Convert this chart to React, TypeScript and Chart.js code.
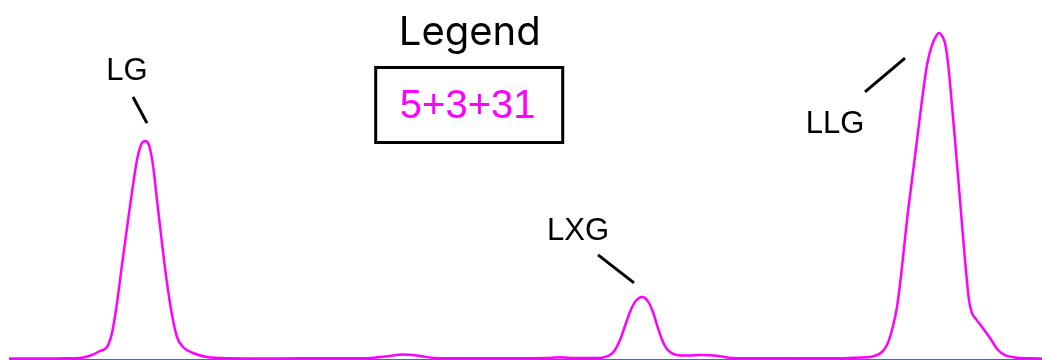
import React, { useEffect, useRef } from "react";
import { Chart, registerables } from "chart.js";

Chart.register(...registerables);

// Retention time (min) and detector signal (% of full scale)
const times: number[] = [
  0, 0.62, 1.12, 1.42, 1.66, 1.82, 1.96, 2.06, 2.16, 2.26, 2.36, 2.46, 2.56, 2.64, 2.72, 2.8, 2.88, 2.96, 3.06,
  3.16, 3.26, 3.36, 3.48, 3.68, 3.96, 4.42, 5.02, 5.82, 6.82, 7.22, 7.52, 7.88, 8.22, 8.52, 9.22, 10.22, 10.72,
  11.02, 11.32, 11.82, 11.88, 12.02, 12.12, 12.22, 12.32, 12.42, 12.52, 12.6, 12.66, 12.72, 12.8, 12.88, 12.96,
  13.04, 13.12, 13.22, 13.36, 13.58, 13.82, 14.12, 14.48, 15.02, 15.82, 16.62, 17.02, 17.22, 17.36, 17.46, 17.56,
  17.66, 17.76, 17.86, 17.96, 18.06, 18.16, 18.26, 18.36, 18.44, 18.52, 18.6, 18.66, 18.72, 18.78, 18.82, 18.92,
  19.02, 19.12, 19.2, 19.26, 19.34, 19.46, 19.62, 19.78, 19.92, 20.12, 20.42, 20.66,
];
const signal: number[] = [
  0.14, 0.14, 0.19, 0.28, 1.11, 2.23, 3.34, 7.24, 15.6, 26.2, 36.5, 46.5, 55.4, 59.6, 60.7, 59.6, 54.0, 44.3, 32.3,
  21.2, 12.3, 6.13, 3.34, 1.67, 0.56, 0.19, 0.14, 0.19, 0.19, 0.28, 0.7, 1.25, 0.84, 0.28, 0.19, 0.19, 0.28,
  0.47, 0.28, 0.28, 0.42, 1.11, 2.51, 5.29, 9.19, 13.1, 15.9, 17.0, 17.3, 17.0, 15.6, 13.1, 9.47,
  6.13, 3.62, 1.95, 1.11, 0.97, 1.11, 0.97, 0.28, 0.19, 0.19, 0.19, 0.42, 0.56, 1.11, 1.95, 3.9,
  8.08, 14.5, 25.6, 38.7, 49.9, 61.0, 72.1, 81.9, 86.6, 89.4, 90.8, 90.0, 88.0, 82.5, 76.9, 61.0,
  44.3, 27.6, 16.4, 12.8, 11.1, 8.91, 5.85, 2.51, 1.11, 0.42, 0.19, 0.14,
];

const seriesLabel = "5+3+31";
const seriesColor = "#ff00ff";
const legendTitle = "Legend";

// Peak annotations (data coordinates)
const peakNames: string[] = ["LG", "LXG", "LLG"];
const peakTextX: number[] = [2.36, 11.38, 16.52];
const peakTextY: number[] = [77.7, 33.1, 63.0];
const leaderStartX: number[] = [2.48, 11.78, 17.12];
const leaderStartY: number[] = [73.0, 29.0, 74.4];
const leaderEndX: number[] = [2.76, 12.5, 17.92];
const leaderEndY: number[] = [65.7, 21.2, 83.8];

const xMin = 0;
const xMax = 20.66;
const yMin = 0;
const yMax = 100;

const annotationPlugin = {
  id: "peakAnnotations",
  afterDatasetsDraw(chart: any) {
    const { ctx, scales } = chart;
    const xs = scales.x;
    const ys = scales.y;
    ctx.save();
    // leader lines
    ctx.strokeStyle = "#000000";
    ctx.lineWidth = 3;
    ctx.lineCap = "butt";
    for (let i = 0; i < peakNames.length; i++) {
      ctx.beginPath();
      ctx.moveTo(xs.getPixelForValue(leaderStartX[i]), ys.getPixelForValue(leaderStartY[i]));
      ctx.lineTo(xs.getPixelForValue(leaderEndX[i]), ys.getPixelForValue(leaderEndY[i]));
      ctx.stroke();
    }
    // labels
    ctx.fillStyle = "#000000";
    ctx.font = "31px 'Liberation Sans', Arial, sans-serif";
    ctx.textAlign = "center";
    ctx.textBaseline = "alphabetic";
    for (let i = 0; i < peakNames.length; i++) {
      ctx.fillText(peakNames[i], xs.getPixelForValue(peakTextX[i]), ys.getPixelForValue(peakTextY[i]));
    }
    // legend
    const ds = chart.data.datasets[0];
    const ca = chart.chartArea;
    const cx = ca.left + (ca.right - ca.left) * 0.446;
    ctx.font = "40px Inter, 'Noto Sans', sans-serif";
    ctx.fillStyle = "#000000";
    ctx.fillText(legendTitle, cx, ca.top + 45);
    ctx.lineWidth = 3;
    ctx.strokeStyle = "#000000";
    ctx.strokeRect(cx - 94, ca.top + 67.5, 187, 75);
    ctx.font = "40px 'Liberation Sans', Arial, sans-serif";
    ctx.fillStyle = ds.borderColor;
    ctx.fillText(ds.label, cx - 2, ca.top + 118);
    ctx.restore();
  },
};

export default function App() {
  const canvasRef = useRef<HTMLCanvasElement | null>(null);

  useEffect(() => {
    if (!canvasRef.current) return;
    const chart = new Chart(canvasRef.current, {
      type: "line",
      data: {
        datasets: [
          {
            label: seriesLabel,
            data: times.map((t, i) => ({ x: t, y: signal[i] })),
            borderColor: seriesColor,
            backgroundColor: seriesColor,
            borderWidth: 2.5,
            pointRadius: 0,
            cubicInterpolationMode: "monotone",
            fill: false,
          },
        ],
      },
      options: {
        animation: false,
        responsive: true,
        maintainAspectRatio: false,
        layout: { padding: { left: 9, right: 0, top: 0, bottom: 1 } },
        plugins: { legend: { display: false }, tooltip: { enabled: false } },
        scales: {
          x: {
            type: "linear",
            min: xMin,
            max: xMax,
            grid: { display: false, drawTicks: false },
            ticks: { display: false },
            border: { display: true, color: "#5a5ad0", width: 1 },
          },
          y: {
            type: "linear",
            min: yMin,
            max: yMax,
            display: false,
          },
        },
      },
      plugins: [annotationPlugin],
    });
    return () => chart.destroy();
  }, []);

  return (
    <div style={{ position: "absolute", left: 0, top: 0, width: 1042, height: 360, background: "#ffffff" }}>
      <canvas ref={canvasRef} />
    </div>
  );
}
